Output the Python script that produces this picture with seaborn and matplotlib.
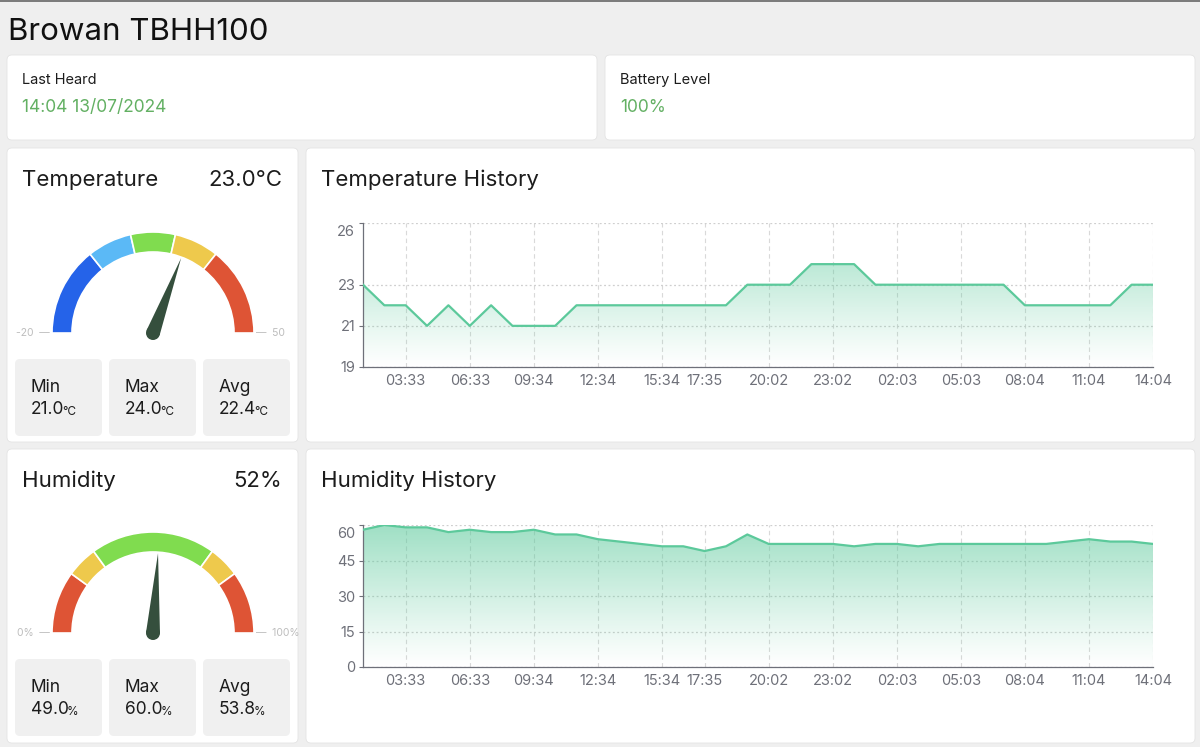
import numpy as np
import pandas as pd
import matplotlib
matplotlib.use("Agg")
import matplotlib.pyplot as plt
import seaborn as sns
from matplotlib.patches import FancyBboxPatch, Wedge, Polygon, Circle

# ---------------- data ----------------
times = ["01:33", "02:33", "03:33", "04:33", "05:33", "06:33", "07:33", "08:34",
         "09:34", "10:34", "11:34", "12:34", "13:34", "14:34", "15:34", "16:35",
         "17:35", "18:35", "19:18", "20:02", "21:02", "22:02", "23:02", "00:03",
         "01:03", "02:03", "03:03", "04:03", "05:03", "06:03", "07:04", "08:04",
         "09:04", "10:04", "11:04", "12:04", "13:04", "14:04"]
temperature = [23, 22, 22, 21, 22, 21, 22, 21, 21, 21, 22, 22, 22, 22, 22, 22,
               22, 22, 23, 23, 23, 24, 24, 24, 23, 23, 23, 23, 23, 23, 23, 22,
               22, 22, 22, 22, 23, 23]
humidity = [58, 60, 59, 59, 57, 58, 57, 57, 58, 56, 56, 54, 53, 52, 51, 51,
            49, 51, 56, 52, 52, 52, 52, 51, 52, 52, 51, 52, 52, 52, 52, 52,
            52, 53, 54, 53, 53, 52]
shown_labels = ["03:33", "06:33", "09:34", "12:34", "15:34", "17:35", "20:02",
                "23:02", "02:03", "05:03", "08:04", "11:04", "14:04"]
temp_yticks = [19, 21, 23, 26]
hum_yticks = [0, 15, 30, 45, 60]
temp_stats = [("Min", "21.0"), ("Max", "24.0"), ("Avg", "22.4")]
hum_stats = [("Min", "49.0"), ("Max", "60.0"), ("Avg", "53.8")]
temp_range = (-20, 50)
hum_range = (0, 100)
temp_bands = [(-20, 0, "#2563e9"), (0, 10, "#5bb9f6"), (10, 20, "#80dc4f"),
              (20, 30, "#eec94c"), (30, 50, "#de5435")]
hum_bands = [(0, 20, "#de5435"), (20, 30, "#eec94c"), (30, 70, "#80dc4f"),
             (70, 80, "#eec94c"), (80, 100, "#de5435")]
temp_now = 23.0
hum_now = 52
last_heard = "14:04 13/07/2024"
battery = "100%"

# ---------------- style ----------------
plt.rcParams["font.family"] = ["Inter", "DejaVu Sans"]
W, H = 1200, 747
fig = plt.figure(figsize=(W / 100, H / 100), dpi=100)
fig.patch.set_facecolor("#efefef")

bg = fig.add_axes([0, 0, 1, 1])
bg.set_xlim(0, W)
bg.set_ylim(0, H)
bg.axis("off")


def Y(y):
    return H - y


def card(x, y, w, h, color="white", r=5):
    bg.add_patch(FancyBboxPatch((x + r, Y(y + h) + r), w - 2 * r, h - 2 * r,
                                boxstyle=f"round,pad={r}", fc=color,
                                ec="#e4e4e4" if color == "white" else "none",
                                lw=0.6))


def txt(x, y, s, size, color="#1c1c1c", ha="left", va="center", **kw):
    return bg.text(x, Y(y), s, fontsize=size, color=color, ha=ha, va=va, **kw)


GREEN_TXT = "#63b063"
txt(8, 40, "Browan TBHH100", 22.5, "#111111", va="baseline")
bg.plot([0, W], [H - 0.5, H - 0.5], color="#666666", lw=1.2)

card(7, 55, 590, 85)
card(605, 55, 590, 85)
txt(22, 80, "Last Heard", 10.5)
txt(22, 107, last_heard, 12.5, GREEN_TXT)
txt(620, 80, "Battery Level", 10.5)
txt(620, 107, battery, 12.5, GREEN_TXT)

card(7, 148, 291, 294)
card(306, 148, 889, 294)
card(7, 449, 291, 294)
card(306, 449, 889, 294)

txt(22, 180, "Temperature", 16)
txt(282, 180, f"{temp_now:.1f}°C", 16, ha="right")
txt(321, 180, "Temperature History", 16)
txt(22, 481, "Humidity", 16)
txt(282, 481, f"{hum_now}%", 16, ha="right")
txt(321, 481, "Humidity History", 16)


def gauge(cx, cy, vrange, bands, value, lo_lbl, hi_lbl):
    lo, hi = vrange
    ang = lambda v: 180 - (v - lo) / (hi - lo) * 180
    for a, b, c in bands:
        bg.add_patch(Wedge((cx, Y(cy)), 101, ang(b), ang(a), width=20,
                           fc=c, ec="white", lw=1.2))
    t = np.deg2rad(ang(value))
    ux, uy = np.cos(t), np.sin(t)
    px, py = -uy, ux
    c0 = np.array([cx, Y(cy)])
    tip = c0 + 80 * np.array([ux, uy])
    pts = [tip, c0 + 7 * np.array([px, py]), c0 - 7 * np.array([px, py])]
    bg.add_patch(Polygon(pts, closed=True, fc="#354f3d", ec="none"))
    bg.add_patch(Circle((cx, Y(cy)), 7, fc="#354f3d", ec="none"))
    txt(cx - 103, cy, lo_lbl + "  —", 7.5, "#bdbdbd", ha="right")
    txt(cx + 103, cy, "—  " + hi_lbl, 7.5, "#bdbdbd", ha="left")


gauge(153, 333, temp_range, temp_bands, temp_now,
      str(temp_range[0]), str(temp_range[1]))
gauge(153, 633, hum_range, hum_bands, hum_now,
      f"{hum_range[0]}%", f"{hum_range[1]}%")


def stats(y0, items, unit):
    for i, (lbl, val) in enumerate(items):
        x0 = 15 + i * 94
        card(x0, y0, 87, 77, color="#f0f0f0", r=5)
        txt(x0 + 16, y0 + 29, lbl, 12.5)
        t = txt(x0 + 16, y0 + 55, val, 12.5, va="baseline")
        bg.annotate(unit, xy=(1, 0), xycoords=t, xytext=(-1.5, 0.3),
                    textcoords="offset points", fontsize=8.5,
                    color="#1c1c1c", va="bottom", ha="left")


stats(359, temp_stats, "°C")
stats(659, hum_stats, "%")

# ---------------- history charts ----------------
LINE = "#5cc99b"
AXC = "#6e7079"


def history(top, bottom, values, ylim, yticks):
    ax = fig.add_axes([363 / W, (H - bottom) / H, 790 / W, (bottom - top) / H])
    ax.set_facecolor("none")
    x = np.arange(len(values))
    df = pd.DataFrame({"idx": x, "val": values})
    poly = ax.fill_between(x, values, ylim[0], color="none", lw=0)
    grad = np.zeros((256, 1, 4))
    grad[:, 0, 0:3] = np.array([0.36, 0.79, 0.61])
    grad[:, 0, 3] = np.linspace(0.0, 0.62, 256) ** 1.1
    im = ax.imshow(grad, extent=[0, len(values) - 1, ylim[0], ylim[1]],
                   aspect="auto", origin="lower", zorder=1)
    im.set_clip_path(poly.get_paths()[0], transform=ax.transData)
    sns.lineplot(data=df, x="idx", y="val", ax=ax, color=LINE, linewidth=1.6,
                 zorder=3)
    ax.set_xlim(0, len(values) - 1)
    ax.set_ylim(*ylim)
    ax.set_xlabel("")
    ax.set_ylabel("")
    ax.set_xticks([times.index(t) for t in shown_labels])
    ax.set_xticklabels(shown_labels)
    ax.set_yticks(yticks)
    ax.set_yticklabels([str(v) for v in yticks[:-1]] + [""])
    ax.annotate(str(yticks[-1]), xy=(0, yticks[-1]),
                xycoords=("axes fraction", "data"), xytext=(-5.8, -6.5),
                textcoords="offset points", ha="right", va="center",
                fontsize=10.5, color=AXC)
    ax.tick_params(axis="x", length=0, pad=5, labelsize=10.5, labelcolor=AXC)
    ax.tick_params(axis="y", length=3, width=0.8, color=AXC, pad=2.5,
                   labelsize=10.5, labelcolor=AXC)
    ax.grid(axis="x", linestyle=(0, (4, 3)), color="#d9d9d9", lw=0.8, zorder=0)
    ax.grid(axis="y", linestyle=(0, (1.5, 2)), color="#cfcfcf", lw=0.9, zorder=0)
    ax.set_axisbelow(True)
    for s in ["top", "right"]:
        ax.spines[s].set_visible(False)
    for s in ["left", "bottom"]:
        ax.spines[s].set_color(AXC)
        ax.spines[s].set_linewidth(0.9)
    return ax


history(223, 367, temperature, (19, 26), temp_yticks)
history(525, 667, humidity, (0, 60), hum_yticks)

fig.savefig("out.png", dpi=100, facecolor=fig.get_facecolor())
